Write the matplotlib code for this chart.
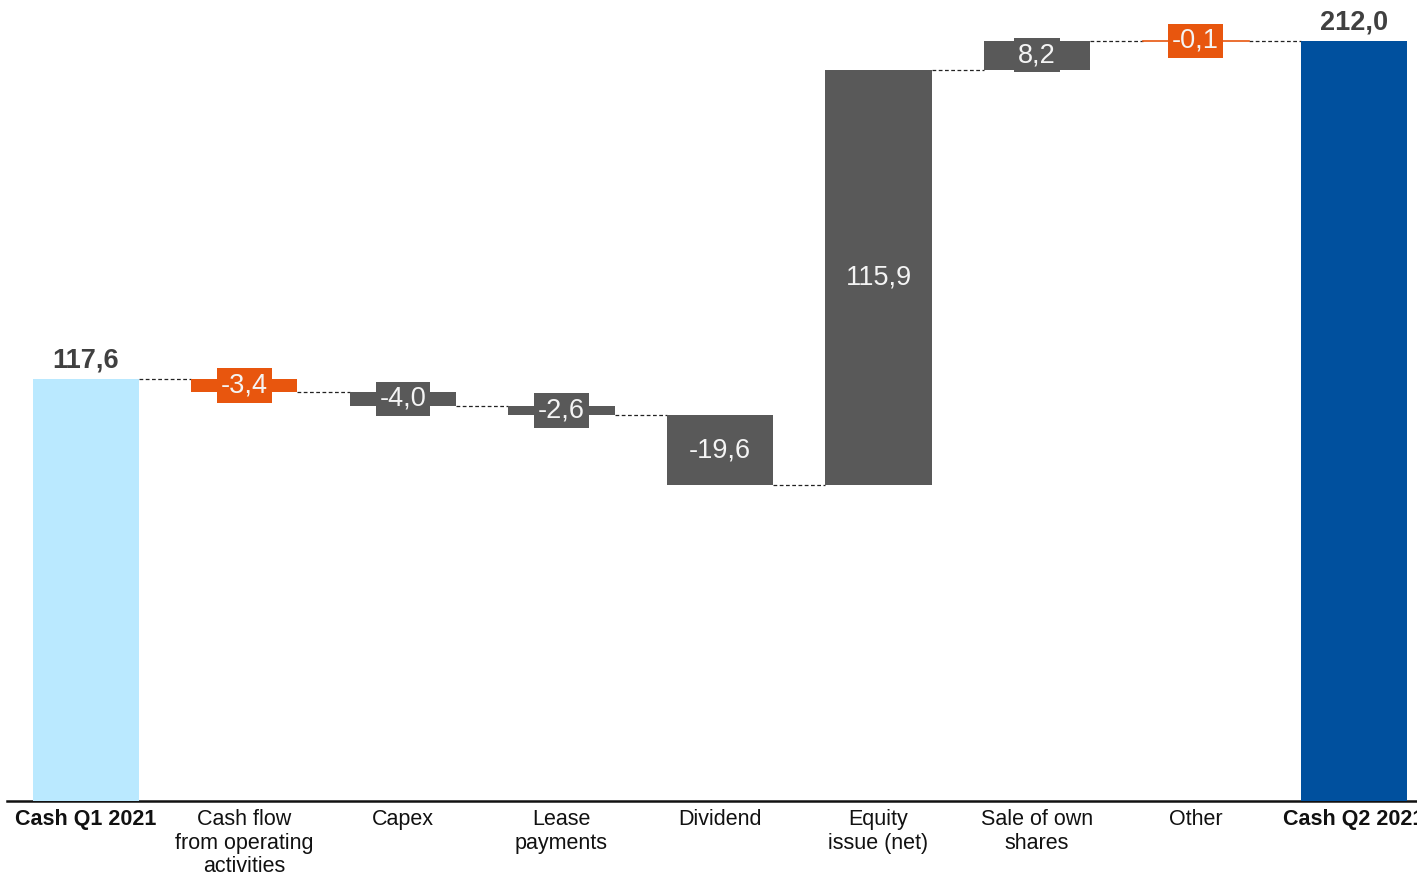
import matplotlib
matplotlib.use("Agg")
import matplotlib.pyplot as plt

plt.rcParams['font.family'] = ['Liberation Sans', 'DejaVu Sans']

categories = ["Cash Q1 2021", "Cash flow\nfrom operating\nactivities", "Capex",
              "Lease\npayments", "Dividend", "Equity\nissue (net)",
              "Sale of own\nshares", "Other", "Cash Q2 2021"]
values = [117.6, -3.4, -4.0, -2.6, -19.6, 115.9, 8.2, -0.1, 212.0]
kinds = ["total", "delta", "delta", "delta", "delta", "delta", "delta", "delta", "total"]
colors = ["#BAE9FF", "#E8560E", "#595959", "#595959", "#595959",
          "#595959", "#595959", "#E8560E", "#00509E"]

fig = plt.figure(figsize=(14.17, 8.77), dpi=100)
ax = fig.add_axes([7 / 1417, 76 / 877, 1 - 7 / 1417, 801 / 877])


def fmt(x):
    return f"{x:.1f}".replace(".", ",")


width = 0.669
level = 0.0
ends = []
for i, (v, k, c) in enumerate(zip(values, kinds, colors)):
    if k == "total":
        bottom, height = 0.0, v
        level = v
    else:
        bottom, height = level, v
        level = level + v
    ends.append(level)
    if abs(height) < 0.3:
        ax.plot([i - width / 2, i + width / 2], [bottom, bottom], color=c, lw=1.2, zorder=3)
    else:
        ax.bar(i, height, bottom=bottom, width=width, color=c, zorder=3)

    if k == "total":
        ax.annotate(fmt(v), (i, v), xytext=(0, 4), textcoords="offset points",
                    ha="center", va="bottom", fontsize=19.5, fontweight="bold",
                    color="#404040")
    else:
        ax.text(i, bottom + height / 2, fmt(v), ha="center", va="center",
                fontsize=19.5, color="#F4F4F4", zorder=4,
                bbox=dict(boxstyle="square,pad=0.15", fc=c, ec="none"))

# dashed connectors between consecutive bars
for i in range(len(values) - 1):
    y = ends[i]
    ax.plot([i + width / 2, i + 1 - width / 2], [y, y], color="#222222",
            lw=0.9, ls=(0, (3, 2)), zorder=2)

ax.set_xlim(-0.498, 8.397)
ax.set_ylim(0, 223.4)
ax.set_xticks(range(len(categories)))
ax.set_xticklabels(categories, fontsize=15.5, color="#111111", linespacing=1.15)
for j, lbl in enumerate(ax.get_xticklabels()):
    if kinds[j] == "total":
        lbl.set_fontweight("bold")
ax.tick_params(axis="x", length=0, pad=6)
ax.set_yticks([])
for s in ["top", "right", "left"]:
    ax.spines[s].set_visible(False)
ax.spines["bottom"].set_linewidth(1.8)
ax.spines["bottom"].set_color("#111111")

fig.savefig("out.png", dpi=100)
